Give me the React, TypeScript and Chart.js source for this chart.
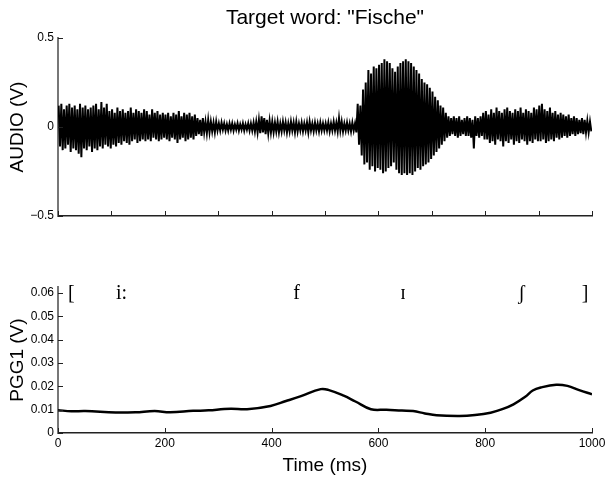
import { useEffect, useRef } from 'react';
import { Chart, registerables } from 'chart.js';

Chart.register(...registerables);

const WIDTH = 605;
const HEIGHT = 501;
const SANS = '"Liberation Sans", Arial, Helvetica, sans-serif';
const SERIF = '"Liberation Serif", "DejaVu Serif", "Times New Roman", serif';

// Audio signal, summarised as the max / min of each 5 ms bin
const AUDIO_BIN_MS = 5;
const AUDIO_MAX = [
  0.12, 0.13, 0.10, 0.12, 0.13, 0.11, 0.12, 0.10, 0.13, 0.11, 0.12, 0.10, 0.11, 0.12, 0.13, 0.10, 0.14, 0.11, 0.13, 0.09,
  0.10, 0.08, 0.11, 0.09, 0.10, 0.08, 0.09, 0.11, 0.08, 0.10, 0.09, 0.08, 0.10, 0.09, 0.07, 0.10, 0.08, 0.09, 0.07, 0.08,
  0.07, 0.08, 0.06, 0.08, 0.07, 0.09, 0.06, 0.08, 0.07, 0.08, 0.06, 0.07, 0.05, 0.04, 0.05, 0.03, 0.04, 0.03, 0.025, 0.03,
  0.02, 0.025, 0.02, 0.015, 0.02, 0.02, 0.015, 0.02, 0.015, 0.02, 0.015, 0.02, 0.02, 0.025, 0.03, 0.04, 0.06, 0.05, 0.04, 0.035,
  0.03, 0.025, 0.03, 0.02, 0.03, 0.025, 0.02, 0.03, 0.025, 0.03, 0.02, 0.025, 0.02, 0.025, 0.03, 0.02, 0.025, 0.02, 0.025, 0.02,
  0.02, 0.025, 0.02, 0.03, 0.025, 0.05, 0.03, 0.02, 0.025, 0.02, 0.025, 0.02, 0.13, 0.12, 0.21, 0.25, 0.32, 0.30, 0.34, 0.33,
  0.35, 0.36, 0.38, 0.37, 0.36, 0.33, 0.31, 0.34, 0.36, 0.37, 0.38, 0.37, 0.36, 0.34, 0.32, 0.30, 0.27, 0.25, 0.24, 0.22,
  0.20, 0.17, 0.15, 0.12, 0.11, 0.08, 0.06, 0.05, 0.06, 0.05, 0.06, 0.04, 0.05, 0.06, 0.05, 0.04, 0.06, 0.05, 0.06, 0.08,
  0.09, 0.07, 0.10, 0.08, 0.11, 0.09, 0.08, 0.10, 0.11, 0.09, 0.08, 0.10, 0.09, 0.11, 0.08, 0.10, 0.09, 0.08, 0.11, 0.10,
  0.12, 0.13, 0.10, 0.09, 0.11, 0.08, 0.09, 0.07, 0.08, 0.07, 0.06, 0.07, 0.05, 0.06, 0.05, 0.04, 0.05, 0.04, 0.035, 0.03,
];
const AUDIO_MIN = [
  -0.11, -0.13, -0.12, -0.10, -0.14, -0.12, -0.13, -0.15, -0.17, -0.12, -0.13, -0.11, -0.14, -0.12, -0.13, -0.11, -0.12, -0.10, -0.11, -0.12,
  -0.10, -0.11, -0.09, -0.10, -0.08, -0.09, -0.10, -0.08, -0.07, -0.09, -0.08, -0.07, -0.08, -0.07, -0.08, -0.06, -0.07, -0.08, -0.07, -0.06,
  -0.07, -0.08, -0.06, -0.07, -0.09, -0.07, -0.06, -0.08, -0.07, -0.06, -0.07, -0.05, -0.04, -0.05, -0.03, -0.035, -0.03, -0.025, -0.03, -0.02,
  -0.02, -0.015, -0.02, -0.02, -0.015, -0.02, -0.015, -0.02, -0.015, -0.02, -0.015, -0.02, -0.02, -0.025, -0.03, -0.035, -0.03, -0.04, -0.035, -0.03,
  -0.03, -0.025, -0.03, -0.025, -0.02, -0.03, -0.025, -0.02, -0.03, -0.025, -0.02, -0.025, -0.02, -0.03, -0.02, -0.025, -0.02, -0.025, -0.02, -0.02,
  -0.02, -0.025, -0.02, -0.02, -0.025, -0.02, -0.025, -0.02, -0.02, -0.025, -0.02, -0.03, -0.10, -0.16, -0.21, -0.20, -0.24, -0.22, -0.25, -0.23,
  -0.24, -0.26, -0.25, -0.23, -0.22, -0.20, -0.24, -0.26, -0.27, -0.26, -0.27, -0.26, -0.27, -0.25, -0.23, -0.24, -0.22, -0.21, -0.20, -0.18,
  -0.16, -0.14, -0.12, -0.10, -0.08, -0.06, -0.05, -0.04, -0.05, -0.06, -0.05, -0.04, -0.05, -0.05, -0.06, -0.12, -0.05, -0.06, -0.05, -0.07,
  -0.07, -0.09, -0.08, -0.10, -0.07, -0.08, -0.11, -0.08, -0.09, -0.07, -0.10, -0.08, -0.09, -0.07, -0.08, -0.10, -0.08, -0.09, -0.07, -0.08,
  -0.08, -0.07, -0.09, -0.08, -0.07, -0.08, -0.06, -0.07, -0.06, -0.05, -0.06, -0.05, -0.04, -0.05, -0.04, -0.035, -0.04, -0.03, -0.03, -0.025,
];

// PGG1 trace
const PGG_TIME = [0, 25, 51, 108, 145, 181, 210, 253, 282, 311, 325, 354, 398, 427, 455, 492, 506, 535, 557, 586, 615, 644, 665, 687, 709, 752, 781, 810, 832, 853, 875, 889, 904, 933, 954, 976, 1000];
const PGG_VALUE = [0.0098, 0.0093, 0.0094, 0.0088, 0.0089, 0.0094, 0.0089, 0.0095, 0.0097, 0.0103, 0.0104, 0.0102, 0.0116, 0.0137, 0.0158, 0.0188, 0.0185, 0.016, 0.0135, 0.0102, 0.01, 0.0096, 0.0094, 0.0084, 0.0076, 0.0073, 0.0077, 0.0087, 0.0102, 0.0123, 0.0155, 0.0182, 0.0195, 0.0207, 0.0202, 0.0184, 0.0166];

// Phonetic transcription of the target word
const PHONES = ['[', 'i:', 'f', 'ɪ', 'ʃ', ']'];
const PHONE_TIME = [25, 119, 447, 646, 868, 987];
const PHONE_LEVEL = 0.0598;

// Axis ticks
const AUDIO_TICKS = [-0.5, 0, 0.5];
const PGG_TICKS = [0, 0.01, 0.02, 0.03, 0.04, 0.05, 0.06];
const PGG_MAX = 0.0625;
const TOP_TIME_TICKS = [0, 100, 200, 300, 400, 500, 600, 700, 800, 900, 1000];
const BOTTOM_TIME_TICKS = [0, 200, 400, 600, 800, 1000];

const TITLE = 'Target word: "Fische"';

// Pixel frame of the two axes boxes
const LEFT = 58;
const RIGHT = 592;
const TOP_AXES = { top: 38, bottom: 216 };
const BOTTOM_AXES = { zero: 433, tickTop: 293 };

// MATLAB-style tick marks pointing into the plot area
const innerTicks = {
  id: 'innerTicks',
  afterDraw(chart: any) {
    const { ctx, chartArea, scales } = chart;
    ctx.save();
    ctx.strokeStyle = '#222';
    ctx.lineWidth = 1;
    const xs = scales.x;
    xs.ticks.forEach((t: any) => {
      const px = Math.round(xs.getPixelForValue(t.value)) + 0.5;
      ctx.beginPath();
      ctx.moveTo(px, chartArea.bottom);
      ctx.lineTo(px, chartArea.bottom - 5);
      ctx.stroke();
    });
    const ys = scales.y;
    ys.ticks.forEach((t: any) => {
      const py = Math.round(ys.getPixelForValue(t.value)) + 0.5;
      ctx.beginPath();
      ctx.moveTo(chartArea.left, py);
      ctx.lineTo(chartArea.left + 5, py);
      ctx.stroke();
    });
    ctx.restore();
  },
};

const titlePlugin = {
  id: 'figTitle',
  afterDraw(chart: any) {
    const { ctx, chartArea } = chart;
    ctx.save();
    ctx.fillStyle = '#000';
    ctx.font = `21px ${SANS}`;
    ctx.textAlign = 'center';
    ctx.textBaseline = 'middle';
    ctx.fillText(TITLE, (chartArea.left + chartArea.right) / 2, 18);
    ctx.restore();
  },
};

const phonePlugin = {
  id: 'phones',
  afterDraw(chart: any) {
    const { ctx, scales } = chart;
    ctx.save();
    ctx.fillStyle = '#000';
    ctx.font = `20px ${SERIF}`;
    ctx.textAlign = 'center';
    ctx.textBaseline = 'middle';
    const py = scales.y.getPixelForValue(PHONE_LEVEL);
    PHONES.forEach((p, i) => {
      ctx.fillText(p, scales.x.getPixelForValue(PHONE_TIME[i]), py);
    });
    ctx.restore();
  },
};

const fixTicks = (values: number[]) => (scale: any) => {
  scale.ticks = values.map((v) => ({ value: v }));
};

export default function App() {
  const topRef = useRef<HTMLCanvasElement>(null);
  const bottomRef = useRef<HTMLCanvasElement>(null);

  useEffect(() => {
    Chart.defaults.font.family = SANS;
    Chart.defaults.color = '#000';

    // each bin is traced max -> min, like a densely sampled waveform
    const audioTrace: { x: number; y: number }[] = [];
    AUDIO_MAX.forEach((hi, i) => {
      const t0 = i * AUDIO_BIN_MS;
      audioTrace.push({ x: t0 + AUDIO_BIN_MS * 0.25, y: hi });
      audioTrace.push({ x: t0 + AUDIO_BIN_MS * 0.75, y: AUDIO_MIN[i] });
    });

    const pxPerUnit = (BOTTOM_AXES.zero - BOTTOM_AXES.tickTop) / PGG_TICKS[PGG_TICKS.length - 1];

    const top = new Chart(topRef.current as HTMLCanvasElement, {
      type: 'line',
      data: {
        datasets: [
          {
            data: audioTrace,
            borderColor: '#000',
            borderWidth: 2,
            pointRadius: 0,
            tension: 0,
            fill: false,
          },
        ],
      },
      options: {
        responsive: false,
        animation: false,
        devicePixelRatio: 1,
        layout: { padding: { left: 0, right: WIDTH - RIGHT, top: TOP_AXES.top, bottom: HEIGHT - TOP_AXES.bottom } },
        plugins: { legend: { display: false }, tooltip: { enabled: false }, title: { display: false } },
        scales: {
          x: {
            type: 'linear',
            min: 0,
            max: 1000,
            afterBuildTicks: fixTicks(TOP_TIME_TICKS),
            afterFit: (s: any) => {
              s.height = 0;
              s.paddingLeft = 0;
              s.paddingRight = 0;
            },
            ticks: { display: false },
            grid: { drawOnChartArea: false, drawTicks: false },
            border: { color: '#222', width: 1.5 },
          },
          y: {
            min: -0.5,
            max: 0.5,
            afterBuildTicks: fixTicks(AUDIO_TICKS),
            afterFit: (s: any) => {
              s.width = LEFT;
              s.paddingTop = 0;
              s.paddingBottom = 0;
            },
            ticks: {
              padding: 4,
              font: { size: 12 },
              color: '#000',
              callback: (v: any) => (v < 0 ? '\u2212' + String(-v) : String(v)),
            },
            grid: { drawOnChartArea: false, drawTicks: false },
            border: { color: '#777', width: 2 },
            title: {
              display: true,
              text: 'AUDIO (V)',
              font: { size: 19 },
              color: '#000',
              padding: { top: 6, bottom: 0 },
            },
          },
        },
      } as any,
      plugins: [innerTicks, titlePlugin],
    });

    const bottom = new Chart(bottomRef.current as HTMLCanvasElement, {
      type: 'line',
      data: {
        datasets: [
          {
            data: PGG_TIME.map((t, i) => ({ x: t, y: PGG_VALUE[i] })),
            borderColor: '#000',
            borderWidth: 2.5,
            pointRadius: 0,
            tension: 0.4,
            fill: false,
          },
        ],
      },
      options: {
        responsive: false,
        animation: false,
        devicePixelRatio: 1,
        layout: {
          padding: { left: 0, right: WIDTH - RIGHT, top: BOTTOM_AXES.zero - PGG_MAX * pxPerUnit, bottom: 0 },
        },
        plugins: { legend: { display: false }, tooltip: { enabled: false }, title: { display: false } },
        scales: {
          x: {
            type: 'linear',
            min: 0,
            max: 1000,
            afterBuildTicks: fixTicks(BOTTOM_TIME_TICKS),
            afterFit: (s: any) => {
              s.height = HEIGHT - BOTTOM_AXES.zero;
              s.paddingLeft = 0;
              s.paddingRight = 0;
            },
            ticks: {
              padding: 3,
              font: { size: 12 },
              color: '#000',
              maxRotation: 0,
              autoSkip: false,
              callback: (v: any) => String(v),
            },
            grid: { drawOnChartArea: false, drawTicks: false },
            border: { color: '#222', width: 1.5 },
            title: {
              display: true,
              text: 'Time (ms)',
              font: { size: 19 },
              color: '#000',
              padding: { top: 0, bottom: 24 },
            },
          },
          y: {
            min: 0,
            max: PGG_MAX,
            afterBuildTicks: fixTicks(PGG_TICKS),
            afterFit: (s: any) => {
              s.width = LEFT;
              s.paddingTop = 0;
              s.paddingBottom = 0;
            },
            ticks: { padding: 4, font: { size: 12 }, color: '#000', callback: (v: any) => String(v) },
            grid: { drawOnChartArea: false, drawTicks: false },
            border: { color: '#777', width: 2 },
            title: {
              display: true,
              text: 'PGG1 (V)',
              font: { size: 19 },
              color: '#000',
              padding: { top: 6, bottom: 0 },
            },
          },
        },
      } as any,
      plugins: [innerTicks, phonePlugin],
    });

    return () => {
      top.destroy();
      bottom.destroy();
    };
  }, []);

  const canvasStyle: React.CSSProperties = { position: 'absolute', left: 0, top: 0 };

  return (
    <div style={{ position: 'absolute', left: 0, top: 0, width: WIDTH, height: HEIGHT, background: '#fff' }}>
      <canvas ref={topRef} width={WIDTH} height={HEIGHT} style={canvasStyle} />
      <canvas ref={bottomRef} width={WIDTH} height={HEIGHT} style={canvasStyle} />
    </div>
  );
}
